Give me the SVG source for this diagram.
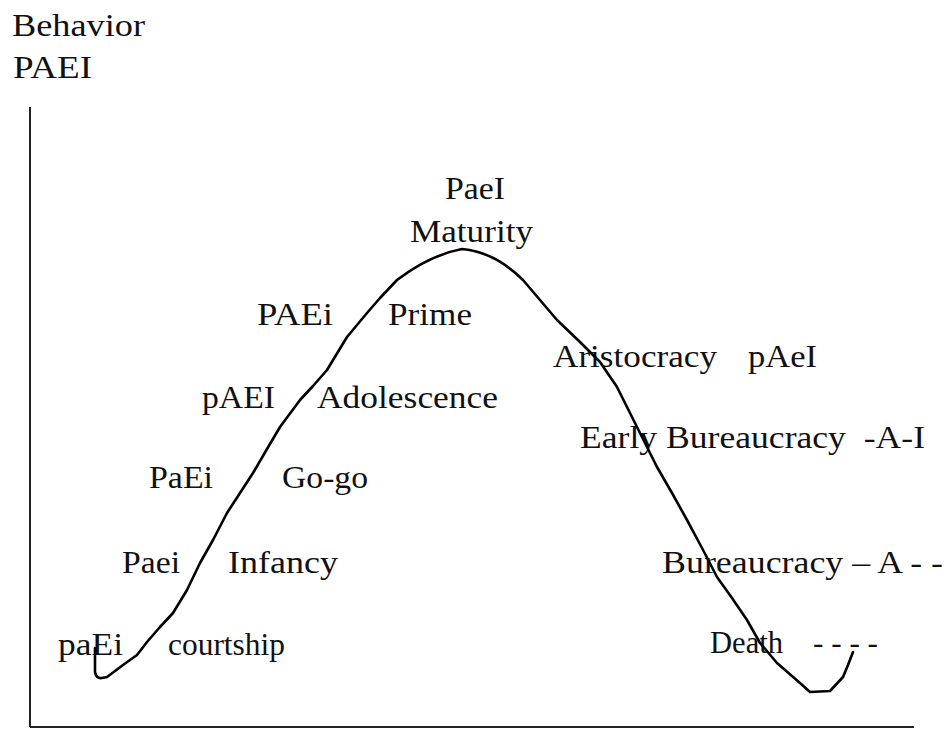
<svg xmlns="http://www.w3.org/2000/svg" width="947" height="729" viewBox="0 0 947 729">
<style>
text{font-family:"Liberation Serif","Times New Roman",serif;font-size:32px;fill:#111;}
.ax{stroke:#222;stroke-width:2;fill:none;}
.curve{stroke:#000;stroke-width:2.6;fill:none;stroke-linejoin:round;stroke-linecap:round;}
</style>
<rect width="947" height="729" fill="#fff"/>
<g id="axes">
<line class="ax" x1="30" y1="107" x2="30" y2="727"/>
<line class="ax" x1="30" y1="727" x2="914" y2="727" stroke="#555"/>
</g>
<g id="labels">
<text x="12" y="36" textLength="133" lengthAdjust="spacingAndGlyphs">Behavior</text>
<text x="13" y="78" textLength="79" lengthAdjust="spacingAndGlyphs">PAEI</text>
<text x="445" y="199" textLength="60" lengthAdjust="spacingAndGlyphs">PaeI</text>
<text x="410" y="242" textLength="123" lengthAdjust="spacingAndGlyphs">Maturity</text>
<text x="257" y="325" textLength="76" lengthAdjust="spacingAndGlyphs">PAEi</text>
<text x="388" y="325" textLength="84" lengthAdjust="spacingAndGlyphs">Prime</text>
<text x="202" y="408" textLength="73" lengthAdjust="spacingAndGlyphs">pAEI</text>
<text x="317" y="408" textLength="181" lengthAdjust="spacingAndGlyphs">Adolescence</text>
<text x="149" y="488" textLength="64" lengthAdjust="spacingAndGlyphs">PaEi</text>
<text x="282" y="488" textLength="86" lengthAdjust="spacingAndGlyphs">Go-go</text>
<text x="122" y="573" textLength="58" lengthAdjust="spacingAndGlyphs">Paei</text>
<text x="228" y="573" textLength="110" lengthAdjust="spacingAndGlyphs">Infancy</text>
<text x="58" y="655" textLength="65" lengthAdjust="spacingAndGlyphs">paEi</text>
<text x="168" y="655" textLength="117" lengthAdjust="spacingAndGlyphs">courtship</text>
<text x="553" y="367" textLength="164" lengthAdjust="spacingAndGlyphs">Aristocracy</text>
<text x="748" y="367" textLength="69" lengthAdjust="spacingAndGlyphs">pAeI</text>
<text x="580" y="448" textLength="345" lengthAdjust="spacingAndGlyphs" xml:space="preserve">Early Bureaucracy  -A-I</text>
<text x="662" y="573" textLength="281" lengthAdjust="spacingAndGlyphs">Bureaucracy – A - -</text>
<text x="710" y="653" textLength="73" lengthAdjust="spacingAndGlyphs">Death</text>
<text x="813" y="653" textLength="65" lengthAdjust="spacingAndGlyphs">- - - -</text>
</g>
<g id="curve">
<path class="curve" d="M95,648 L95,672 Q96,679 102,678 L107,677 L123,665 L137,655 L147,642 L160,627 L173,613 L187,590 L200,563 L213,540 L227,513 L240,493 L253,473 L267,449 L280,427 L300,400 L313,386 L327,370 L347,337 L367,313 L380,298 L397,280 Q430,255 462,249 Q495,252 523,280 L557,320 L580,342 L600,362 L617,387 L637,427 L657,467 L672,493 L687,520 L702,548 L717,577 L732,598 L747,620 L760,643 L777,663 L800,683 L810,692 L830,691 L843,677 L848,665 L853,652"/>
</g>
</svg>
